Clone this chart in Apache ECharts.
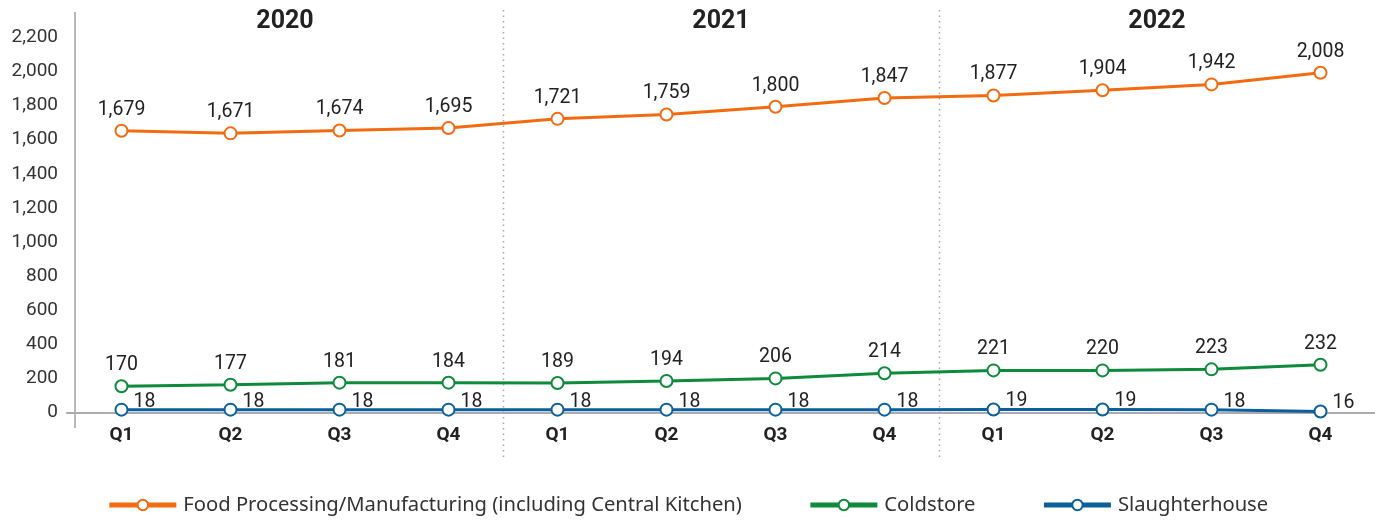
<!DOCTYPE html>
<html>
<head>
<meta charset="utf-8">
<script src="https://cdn.jsdelivr.net/npm/echarts@6/dist/echarts.min.js"></script>
<style>
  html, body { margin: 0; padding: 0; background: #fff; }
  #chart { width: 1375px; height: 521px; }
</style>
</head>
<body>
<div id="chart"></div>
<script>
var quarters = ['Q1', 'Q2', 'Q3', 'Q4', 'Q1', 'Q2', 'Q3', 'Q4', 'Q1', 'Q2', 'Q3', 'Q4'];
var years = ['2020', '2021', '2022'];

// plotted positions (as drawn) and the printed labels
var foodValues = [1652, 1637, 1654, 1668, 1722, 1748, 1793, 1844, 1859, 1890, 1924, 1992];
var foodLabels = ['1,679', '1,671', '1,674', '1,695', '1,721', '1,759', '1,800', '1,847', '1,877', '1,904', '1,942', '2,008'];
var coldValues = [155, 164, 176, 176, 174, 186, 201, 231, 248, 248, 254, 281];
var coldLabels = ['170', '177', '181', '184', '189', '194', '206', '214', '221', '220', '223', '232'];
var slaughterValues = [18, 18, 18, 18, 18, 18, 18, 18, 19, 19, 18, 7];
var slaughterLabels = ['18', '18', '18', '18', '18', '18', '18', '18', '19', '19', '18', '16'];

var seriesNames = ['Food Processing/Manufacturing (including Central Kitchen)', 'Coldstore', 'Slaughterhouse'];
var colors = ['#f26b10', '#0d8a3b', '#0b5f9b'];
var font = 'Roboto, "Noto Sans", sans-serif';

function buildLine(name, values, labels, color, pos) {
  return {
    name: name,
    type: 'line',
    data: values,
    symbol: 'emptyCircle',
    symbolSize: 12,
    lineStyle: { color: color, width: 3 },
    itemStyle: { color: color, borderWidth: 2.5 },
    label: {
      show: true,
      position: pos,
      distance: pos == 'right' ? 5 : 4,
      offset: pos == 'right' ? [0, -8] : [0, 0],
      color: '#222',
      fontSize: 19.5,
      fontFamily: font,
      formatter: function (p) { return labels[p.dataIndex]; }
    },
    emphasis: { disabled: true },
    z: 3
  };
}

var myChart = echarts.init(document.getElementById('chart'));
var option = {
  animation: false,
  color: colors,
  grid: { left: 67, right: 0, top: 37.3, bottom: 108.3 },
  legend: {
    left: 'center',
    top: 490,
    itemWidth: 67,
    itemHeight: 13,
    itemGap: 66,
    lineStyle: { width: 5 },
    textStyle: { color: '#333', fontSize: 20.2, fontFamily: '"Noto Sans", sans-serif', padding: [0, 0, 0, 2] },
    data: seriesNames
  },
  xAxis: [{
    type: 'category',
    data: quarters,
    position: 'bottom',
    axisLine: { lineStyle: { color: '#aaaab0', width: 2 } },
    axisTick: { show: false },
    axisLabel: { color: '#222', fontSize: 19, fontWeight: 'bold', fontFamily: font, margin: 13 }
  }, {
    type: 'category',
    data: years,
    position: 'top',
    axisLine: { show: false },
    axisTick: { show: false },
    axisLabel: { color: '#222', fontSize: 25, fontWeight: 'bold', fontFamily: font, margin: 3 }
  }],
  yAxis: {
    type: 'value',
    min: 0,
    max: 2200,
    interval: 200,
    axisLine: { show: false },
    axisTick: { show: false },
    splitLine: { show: false },
    axisLabel: {
      color: '#333',
      fontSize: 19,
      fontFamily: font,
      margin: 9,
      formatter: function (v) { return v.toLocaleString('en-US'); }
    }
  },
  series: [
    buildLine(seriesNames[0], foodValues, foodLabels, colors[0], 'top'),
    buildLine(seriesNames[1], coldValues, coldLabels, colors[1], 'top'),
    buildLine(seriesNames[2], slaughterValues, slaughterLabels, colors[2], 'right')
  ]
};
myChart.setOption(option);

// year separators and the long y axis line
var graphics = [{
  type: 'line',
  shape: { x1: 75, y1: 12, x2: 75, y2: 428 },
  style: { stroke: '#b8b8c0', lineWidth: 2 },
  silent: true
}];
[4, 8].forEach(function (i) {
  var a = myChart.convertToPixel({ xAxisIndex: 0 }, i - 1);
  var b = myChart.convertToPixel({ xAxisIndex: 0 }, i);
  var x = Math.round((a + b) / 2) + 0.5;
  graphics.push({
    type: 'line',
    shape: { x1: x, y1: 10, x2: x, y2: 458 },
    style: { stroke: '#a8a8a8', lineWidth: 1.5, lineDash: [1.5, 4] },
    silent: true,
    z: 0
  });
});
myChart.setOption({ graphic: graphics });
</script>
</body>
</html>
